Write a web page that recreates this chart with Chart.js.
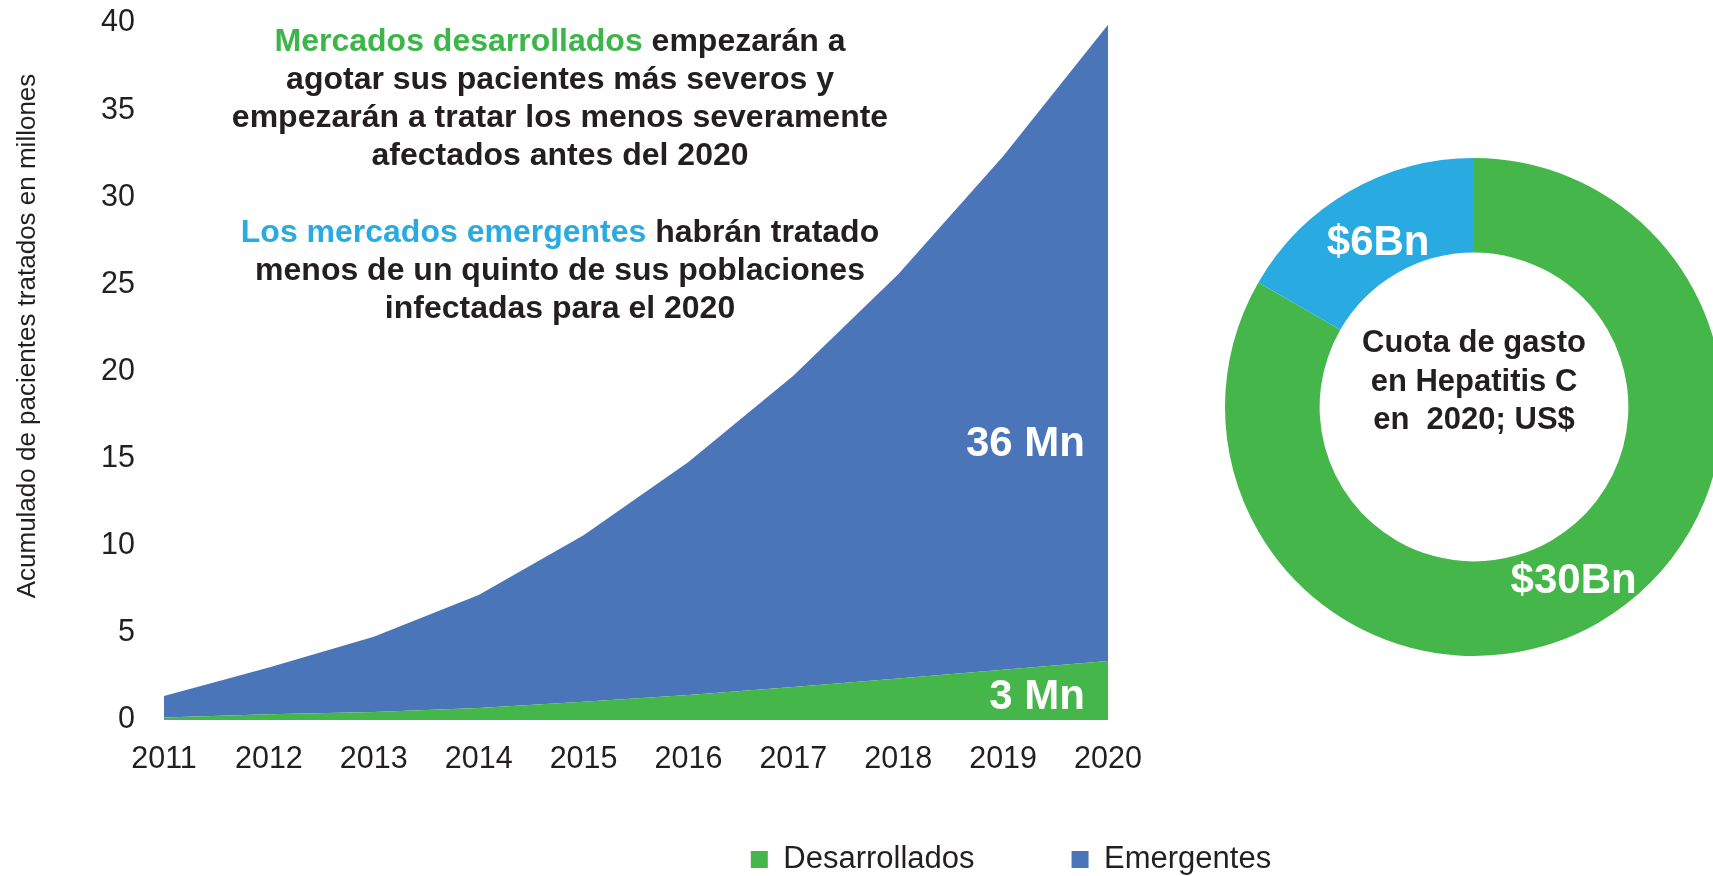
<!DOCTYPE html>
<html>
<head>
<meta charset="utf-8">
<script src="https://cdn.jsdelivr.net/npm/chart.js@4.4.1/dist/chart.umd.min.js"></script>
<style>
html,body{margin:0;padding:0;background:#fff;overflow:hidden;width:1713px;height:876px;}
#wrap{position:relative;width:1713px;height:876px;overflow:hidden;background:#fff;}
#area{position:absolute;left:0;top:0;}
#donut{position:absolute;left:1204px;top:137px;}
</style>
</head>
<body>
<div id="wrap">
<canvas id="area" width="2022" height="885" style="width:2022px;height:885px"></canvas>
<canvas id="donut" width="540" height="540" style="width:540px;height:540px"></canvas>
</div>
<script>
// ---------- DATA ----------
const years = ['2011','2012','2013','2014','2015','2016','2017','2018','2019','2020'];
const desarrollados = [0.15, 0.33, 0.46, 0.69, 1.05, 1.43, 1.90, 2.38, 2.88, 3.39];
const emergentes    = [1.23, 2.69, 4.32, 6.48, 9.55, 13.37, 17.85, 23.20, 29.47, 36.51];
const seriesNames = ['Desarrollados', 'Emergentes'];
const yTickStep = 5;
const yMax = 40;
const yTitle = 'Acumulado de pacientes tratados en millones';
const endLabels = ['3 Mn', '36 Mn'];

const spendNames = ['Desarrollados', 'Emergentes'];
const spendValues = [30, 6];
const spendLabels = ['$30Bn', '$6Bn'];
const centerLines = ['Cuota de gasto', 'en Hepatitis C', 'en  2020; US$'];

const GREEN = '#45b649', BLUE = '#4a75b9', LIGHTBLUE = '#29abe2', DARK = '#231f20';
const TXT_GREEN = '#3cb54a';
const noteLines = [
  [['Mercados desarrollados ', TXT_GREEN], ['empezarán a', DARK]],
  [['agotar sus pacientes más severos y', DARK]],
  [['empezarán a tratar los menos severamente', DARK]],
  [['afectados antes del 2020', DARK]],
  [['Los mercados emergentes ', LIGHTBLUE], ['habrán tratado', DARK]],
  [['menos de un quinto de sus poblaciones', DARK]],
  [['infectadas para el 2020', DARK]]
];

const FAMILY = "'Liberation Sans', Arial, Helvetica, sans-serif";
Chart.defaults.font.family = FAMILY;
Chart.defaults.color = DARK;

// ---------- AREA CHART ----------
const areaDecor = {
  id: 'areaDecor',
  afterDraw(chart) {
    const ctx = chart.ctx;
    const xs = chart.scales.x, ys = chart.scales.y;
    ctx.save();
    // y-axis title
    ctx.font = '26px ' + FAMILY;
    ctx.fillStyle = DARK;
    ctx.textAlign = 'center';
    ctx.textBaseline = 'middle';
    ctx.translate(28, 336);
    ctx.rotate(-Math.PI / 2);
    ctx.fillText(yTitle, 0, 0);
    ctx.setTransform(1, 0, 0, 1, 0, 0);

    // annotation text
    ctx.font = 'bold 32px ' + FAMILY;
    ctx.textAlign = 'left';
    ctx.textBaseline = 'middle';
    const ys0 = [42, 80, 118, 156, 233.5, 271.5, 309.5];
    const cx = 560;
    noteLines.forEach((segs, i) => {
      let w = 0;
      segs.forEach(s => { w += ctx.measureText(s[0]).width; });
      let x = cx - w / 2;
      segs.forEach(s => {
        ctx.fillStyle = s[1];
        ctx.fillText(s[0], x, ys0[i]);
        x += ctx.measureText(s[0]).width;
      });
    });

    // end labels
    const last = years.length - 1;
    const xr = xs.getPixelForValue(last) - 23;
    ctx.font = 'bold 42px ' + FAMILY;
    ctx.fillStyle = '#ffffff';
    ctx.textAlign = 'right';
    ctx.fillText(endLabels[0], xr, ys.getPixelForValue(desarrollados[last] / 2) + 7);
    ctx.fillText(endLabels[1], xr, 444);
    ctx.restore();
  }
};

new Chart(document.getElementById('area'), {
  type: 'line',
  data: {
    labels: years,
    datasets: [
      { label: seriesNames[0], data: desarrollados, backgroundColor: GREEN, borderColor: GREEN,
        borderWidth: 0, pointRadius: 0, fill: 'origin', tension: 0 },
      { label: seriesNames[1], data: emergentes, backgroundColor: BLUE, borderColor: BLUE,
        borderWidth: 0, pointRadius: 0, fill: '-1', tension: 0 }
    ]
  },
  options: {
    responsive: false,
    animation: false,
    layout: { padding: { top: 0, left: 0, right: 0, bottom: 0 } },
    plugins: {
      tooltip: { enabled: false },
      legend: {
        position: 'bottom',
        align: 'center',
        labels: { boxWidth: 17, boxHeight: 17, padding: 97, color: DARK, font: { size: 31, family: FAMILY } }
      }
    },
    scales: {
      x: {
        offset: false,
        grid: { display: false, drawTicks: false },
        border: { display: false },
        ticks: { color: DARK, font: { size: 30.5, family: FAMILY }, padding: -58, maxRotation: 0, autoSkip: false, mirror: true },
        afterFit: s => { s.height = 27; s.paddingLeft = 0; s.paddingRight = 0; }
      },
      y: {
        stacked: true,
        min: 0, max: yMax,
        grid: { display: false, drawTicks: false },
        border: { display: false },
        ticks: { stepSize: yTickStep, color: DARK, font: { size: 30.5, family: FAMILY }, padding: 29 },
        afterFit: s => { s.width = 164; s.paddingTop = 23; s.paddingBottom = 0; }
      },
      yR: {
        position: 'right',
        display: true,
        grid: { display: false, drawTicks: false },
        border: { display: false },
        ticks: { display: false },
        afterFit: s => { s.width = 2022 - 1108; }
      }
    }
  },
  plugins: [areaDecor]
});

// ---------- DOUGHNUT ----------
const labelRadius = [0.80, 0.77];
const donutDecor = {
  id: 'donutDecor',
  afterDraw(chart) {
    const ctx = chart.ctx;
    const meta = chart.getDatasetMeta(0);
    const ca = chart.chartArea;
    const cx = (ca.left + ca.right) / 2, cy = (ca.top + ca.bottom) / 2;
    ctx.save();
    ctx.textAlign = 'center';
    ctx.textBaseline = 'middle';
    ctx.font = 'bold 42px ' + FAMILY;
    ctx.fillStyle = '#ffffff';
    meta.data.forEach((arc, i) => {
      const p = arc.getProps(['x', 'y', 'startAngle', 'endAngle', 'outerRadius'], true);
      const mid = (p.startAngle + p.endAngle) / 2;
      const r = p.outerRadius * labelRadius[i];
      ctx.fillText(spendLabels[i], p.x + Math.cos(mid) * r, p.y + Math.sin(mid) * r + 2);
    });
    ctx.font = 'bold 31px ' + FAMILY;
    ctx.fillStyle = DARK;
    const offs = [-64, -25, 13];
    centerLines.forEach((t, i) => ctx.fillText(t, cx, cy + offs[i]));
    ctx.restore();
  }
};

new Chart(document.getElementById('donut'), {
  type: 'doughnut',
  data: {
    labels: spendNames,
    datasets: [{ data: spendValues, backgroundColor: [GREEN, LIGHTBLUE], borderWidth: 0 }]
  },
  options: {
    responsive: false,
    animation: false,
    cutout: '62%',
    layout: { padding: 21 },
    plugins: { legend: { display: false }, tooltip: { enabled: false } }
  },
  plugins: [donutDecor]
});
</script>
</body>
</html>
